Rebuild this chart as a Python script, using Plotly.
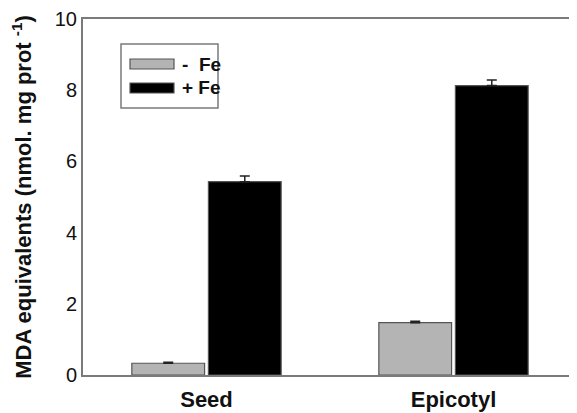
import plotly.graph_objects as go

categories = ["Seed", "Epicotyl"]
minus_fe = [0.33, 1.47]
minus_fe_err = [0.03, 0.04]
plus_fe = [5.43, 8.13]
plus_fe_err = [0.16, 0.16]
series_names = ["-  Fe", "+ Fe"]
y_ticks = [0, 2, 4, 6, 8, 10]

GRAY = "#b4b4b4"
AXIS = "#7a7a7a"
FONT = "Liberation Sans, Arial, sans-serif"

# the page body adds an 8px offset; size the figure so it fills the window
W, H = 569, 405
L, R, T, B = 75, 0, 11, 38
PW, PH = W - L - R, H - T - B


def px_x(x):
    return (x - 8 - L) / PW


def px_y(y):
    return (H - B - (y - 8)) / PH


fig = go.Figure()
fig.add_trace(go.Bar(
    x=categories, y=minus_fe, name=series_names[0],
    marker=dict(color=GRAY, line=dict(color="#555555", width=1.2)),
    error_y=dict(type="data", symmetric=False, array=minus_fe_err, arrayminus=[0, 0],
                 color="#222222", thickness=1.5, width=5),
))
fig.add_trace(go.Bar(
    x=categories, y=plus_fe, name=series_names[1],
    marker=dict(color="#000000", line=dict(color="#555555", width=1.2)),
    error_y=dict(type="data", symmetric=False, array=plus_fe_err, arrayminus=[0, 0],
                 color="#222222", thickness=1.5, width=5),
))
# invisible trace to drive the right-side axis
fig.add_trace(go.Scatter(x=categories, y=[None, None], yaxis="y2", showlegend=False,
                         hoverinfo="skip", mode="lines"))

fig.update_layout(
    width=W, height=H,
    margin=dict(l=L, r=R, t=T, b=B, autoexpand=False),
    paper_bgcolor="white", plot_bgcolor="white",
    barmode="group", bargap=0.38, bargroupgap=0.05,
    showlegend=False,
    font=dict(family=FONT, size=20, color="#111111"),
    xaxis=dict(
        range=[-0.5, 1.5], showline=True, linecolor=AXIS, linewidth=2,
        mirror=True, ticks="", showgrid=False, zeroline=False, automargin=False,
        ticklabelstandoff=4,
        tickfont=dict(family=FONT, size=22, color="#111111", weight="bold"),
    ),
    yaxis=dict(
        range=[0, 10], tickvals=y_ticks, showline=True, linecolor=AXIS, linewidth=2,
        ticks="", showgrid=False, zeroline=False, automargin=False,
        tickfont=dict(family=FONT, size=20, color="#111111"),
        title=dict(text="MDA equivalents (nmol. mg prot <sup>-1</sup>)",
                   font=dict(family=FONT, size=22, color="#111111", weight="bold"),
                   standoff=22),
    ),
    yaxis2=dict(
        range=[0, 10], tickvals=y_ticks, overlaying="y", side="right",
        showline=True, linecolor=AXIS, linewidth=2, ticks="inside", ticklen=6,
        tickcolor="#444444", showticklabels=False, showgrid=False, zeroline=False,
        automargin=False,
    ),
)

# legend box built from layout shapes and text
fig.add_shape(type="rect", xref="paper", yref="paper",
              x0=px_x(121), x1=px_x(218), y0=px_y(108), y1=px_y(44),
              line=dict(color=AXIS, width=1.5), fillcolor="white")
legend_rows = [(59, 69, GRAY), (83, 93, "#000000")]
for (top, bot, col), name in zip(legend_rows, series_names):
    fig.add_shape(type="rect", xref="paper", yref="paper",
                  x0=px_x(130), x1=px_x(174), y0=px_y(bot), y1=px_y(top),
                  line=dict(color="#555555", width=1.2), fillcolor=col)
    fig.add_annotation(xref="paper", yref="paper", x=px_x(180),
                       y=px_y((top + bot) / 2), text="<b>" + name + "</b>",
                       showarrow=False, xanchor="left", yanchor="middle",
                       font=dict(family=FONT, size=19, color="#111111"))

fig.write_html("out.html")
